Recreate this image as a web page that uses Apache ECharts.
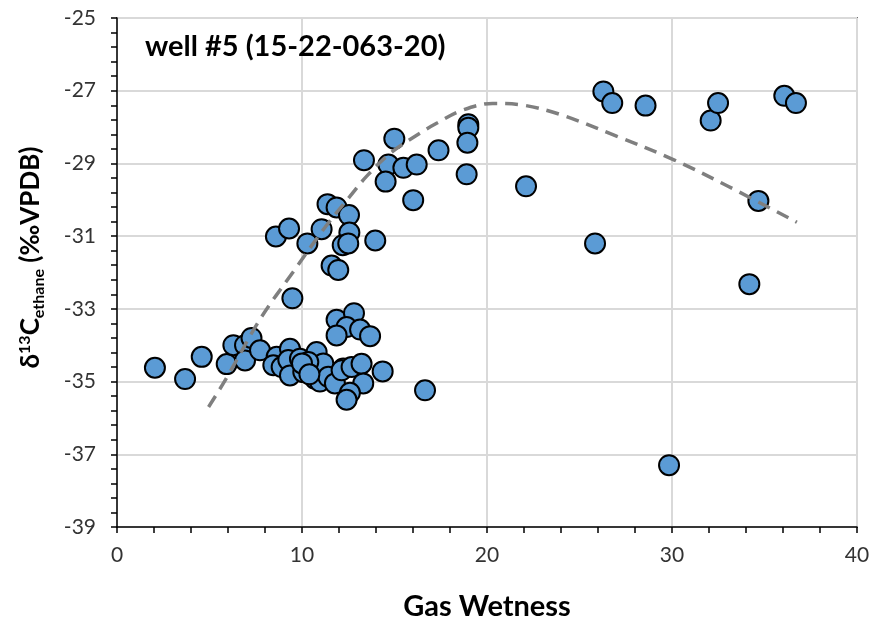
<!DOCTYPE html>
<html>
<head>
<meta charset="utf-8">
<script src="https://cdn.jsdelivr.net/npm/echarts@6/dist/echarts.min.js"></script>
<style>
  html, body { margin: 0; padding: 0; background: #fff; }
  #chart { width: 876px; height: 626px; }
</style>
</head>
<body>
<div id="chart"></div>
<script>
// Gas wetness vs. ethane carbon isotope, well #5
const wetness = [
  2.05, 3.68, 4.58, 5.93, 6.29, 6.92, 7.27, 6.92, 7.73,
  8.63, 8.45, 8.9, 9.35, 9.26, 9.35, 9.89, 10.07, 10.79, 10.61, 10.7, 11.15, 10.97,
  11.7, 11.42, 11.78, 12.23, 12.14, 12.68, 13.22, 14.36, 13.31, 12.59, 12.41, 16.65,
  10.34, 10.0, 10.4,
  11.87, 12.81, 12.41, 13.14, 11.87, 13.68, 9.48, 11.6, 11.96,
  8.59, 9.3, 10.29, 11.06, 11.38, 11.87, 12.54, 12.56, 12.2, 12.5, 13.96,
  13.35, 14.67, 15.48, 16.2, 14.52, 16.01, 14.99, 17.38,
  18.99, 18.99, 18.94, 18.9, 22.11, 25.84, 26.29, 26.77, 28.57, 29.84,
  32.09, 32.49, 34.18, 34.67, 36.07, 36.7
];
const d13cEthane = [
  -34.62, -34.93, -34.32, -34.52, -34.0, -34.0, -33.8, -34.42, -34.14,
  -34.32, -34.55, -34.6, -34.1, -34.41, -34.83, -34.37, -34.74, -34.19, -34.55, -34.92, -34.5, -35.0,
  -34.96, -34.87, -35.05, -34.64, -34.69, -34.6, -34.51, -34.72, -35.05, -35.31, -35.5, -35.24,
  -34.46, -34.5, -34.8,
  -33.3, -33.12, -33.5, -33.57, -33.73, -33.75, -32.71, -31.81, -31.93,
  -31.01, -30.79, -31.2, -30.81, -30.12, -30.21, -30.42, -30.9, -31.25, -31.2, -31.12,
  -28.91, -29.03, -29.12, -29.03, -29.5, -30.01, -28.32, -28.64,
  -27.92, -28.02, -28.43, -29.3, -29.63, -31.2, -27.02, -27.34, -27.41, -37.3,
  -27.82, -27.34, -32.32, -30.03, -27.14, -27.34
];

// Trend curve, sampled along its path
const trendX = [4.95, 5.9, 7.75, 9.5, 11.3, 12.6, 13.5, 14.8, 16.4, 17.3, 18.6, 20.3, 22.0, 24.0, 27.0, 30.1, 33.0, 36.75];
const trendY = [-35.7, -34.92, -33.27, -32.0, -30.72, -29.9, -29.35, -28.71, -28.16, -27.89, -27.55, -27.35, -27.4, -27.66, -28.25, -28.9, -29.62, -30.62];

const xTicks = { min: 0, max: 40, step: 10 };
const yTicks = { min: -39, max: -25, step: 2 };

const FONT = 'Lato, "Open Sans", sans-serif';

const points = wetness.map((x, i) => [x, d13cEthane[i]]);
const trend = trendX.map((x, i) => [x, trendY[i]]);

const chart = echarts.init(document.getElementById('chart'), null, { renderer: 'canvas' });

chart.setOption({
  backgroundColor: '#ffffff',
  animation: false,
  textStyle: { fontFamily: FONT },
  title: {
    text: 'well #5 (15-22-063-20)',
    left: 140,
    top: 27,
    textStyle: { fontFamily: FONT, fontSize: 29, fontWeight: 'bold', color: '#000' }
  },
  grid: { left: 117, top: 18, right: 19, bottom: 97, show: true, borderColor: '#000', borderWidth: 1.5, backgroundColor: 'transparent' },
  xAxis: {
    type: 'value',
    min: xTicks.min, max: xTicks.max, interval: xTicks.step,
    name: 'Gas Wetness',
    nameLocation: 'middle',
    nameGap: 65,
    nameTextStyle: { fontFamily: FONT, fontSize: 29, fontWeight: 'bold', color: '#000' },
    axisLine: { show: true, onZero: false, lineStyle: { color: '#000', width: 1.5 } },
    axisTick: { show: true, inside: false, length: 6, lineStyle: { color: '#000', width: 1.5 } },
    minorTick: { show: true, splitNumber: 5, length: 6, lineStyle: { color: '#000', width: 1.5 } },
    axisLabel: { fontFamily: FONT, fontSize: 21, color: '#333', margin: 18 },
    splitLine: { show: true, lineStyle: { color: '#d9d9d9', width: 2 } }
  },
  yAxis: {
    type: 'value',
    min: yTicks.min, max: yTicks.max, interval: yTicks.step,
    name: '{d|δ}{sup|13}{d|C}{sub|ethane}{d| (‰VPDB)}',
    nameLocation: 'middle',
    nameGap: 69,
    nameRotate: 90,
    nameTextStyle: {
      fontFamily: FONT, fontWeight: 'bold', color: '#000',
      padding: [0, 0, 0, 30],
      rich: {
        d: { fontFamily: FONT, fontSize: 26, fontWeight: 'bold', color: '#000', lineHeight: 34, verticalAlign: 'middle' },
        sup: { fontFamily: FONT, fontSize: 16, fontWeight: 'bold', color: '#000', lineHeight: 34, verticalAlign: 'top', padding: [3, 0, 0, 0] },
        sub: { fontFamily: FONT, fontSize: 16, fontWeight: 'bold', color: '#000', lineHeight: 34, verticalAlign: 'bottom', padding: [0, 0, 1, 0] }
      }
    },
    axisLine: { show: true, onZero: false, lineStyle: { color: '#000', width: 1.5 } },
    axisTick: { show: true, inside: false, length: 6, lineStyle: { color: '#000', width: 1.5 } },
    minorTick: { show: true, splitNumber: 5, length: 6, lineStyle: { color: '#000', width: 1.5 } },
    axisLabel: { fontFamily: FONT, fontSize: 21, color: '#333', margin: 21 },
    splitLine: { show: true, lineStyle: { color: '#d9d9d9', width: 2 } }
  },
  series: [
    {
      type: 'scatter',
      data: points,
      symbol: 'circle',
      symbolSize: 20,
      itemStyle: { color: '#5b9bd5', borderColor: '#000', borderWidth: 2, opacity: 1 },
      z: 2
    },
    {
      type: 'line',
      data: trend,
      smooth: 0.35,
      showSymbol: false,
      symbol: 'none',
      lineStyle: { color: '#7f7f7f', width: 3.5, type: [13, 8] },
      z: 3
    }
  ]
});
</script>
</body>
</html>
